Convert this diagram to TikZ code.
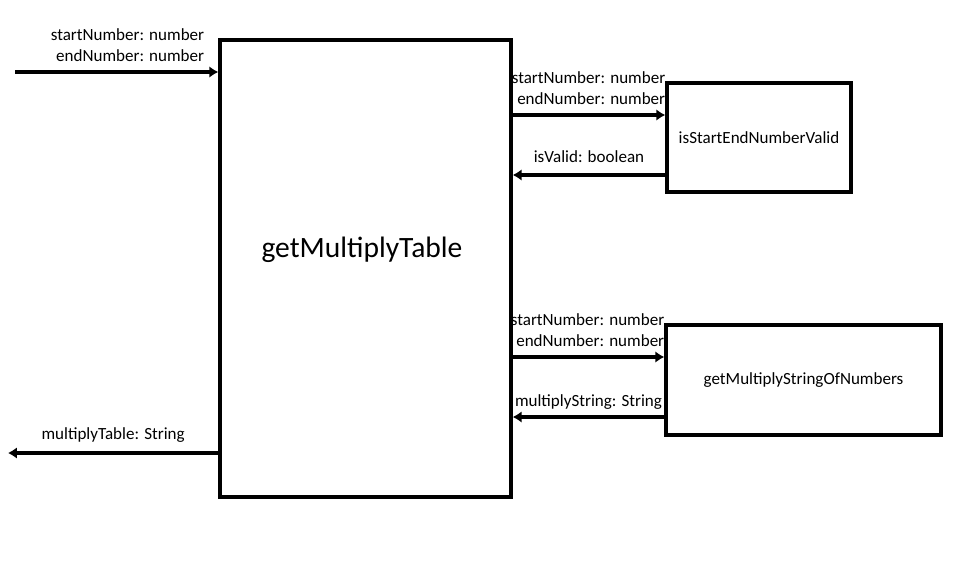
\documentclass[tikz,border=0pt]{standalone}
\usepackage{fontspec}
\setmainfont{Carlito}
\usetikzlibrary{arrows.meta,positioning,calc}
\tikzset{
  fn/.style={draw, line width=2pt, inner sep=0pt},
  flow/.style={line width=2.1pt, -{Latex[length=5pt,width=6.5pt]}},
  lbl/.style={font=\fontsize{9.7}{11.9}\selectfont, inner sep=1pt, align=right}
}
\begin{document}
\begin{tikzpicture}[x=0.02cm, y=-0.02cm]
		\useasboundingbox (0,0) rectangle (977,571);
		\node[fn, minimum width=5.82cm, minimum height=9.14cm] (main) at (365.5,268.5) {};
		\node[font=\fontsize{16.8}{20}\selectfont] (title) at (362,250) {getMultiplyTable};
		\node[fn, minimum width=3.68cm, minimum height=2.18cm, lbl] (valid)
		at (759,137.5) {isStartEndNumberValid};
		\node[fn, minimum width=5.5cm, minimum height=2.2cm, lbl] (mulstr)
		at (803.5,380) {getMultiplyStringOfNumbers};
		\coordinate (in) at (15,72);
		\coordinate (out) at (8,453);
		\path ($(valid.west)+(0,-22.5)$) coordinate (v1) ($(valid.west)+(0,37.5)$) coordinate (v2);
		\path ($(mulstr.west)+(0,-23)$) coordinate (m1) ($(mulstr.west)+(0,37)$) coordinate (m2);
		\draw[flow] (in) -- (in -| main.west)
		node[lbl, above left=4pt and 6pt] {startNumber: number\\endNumber: number};
		\draw[flow] (v1 -| main.east) -- (v1)
		node[lbl, above left=4pt and -2pt] {startNumber: number\\endNumber: number};
		\draw[flow] (v2) -- node[lbl, above=5pt] {isValid: boolean} (v2 -| main.east);
		\draw[flow] (m1 -| main.east) -- (m1)
		node[lbl, above left=4pt and -2pt] {startNumber: number\\endNumber: number};
		\draw[flow] (m2) -- node[lbl, above=2pt] {multiplyString: String} (m2 -| main.east);
		\draw[flow] (out -| main.west) -- node[lbl, above=4pt] {multiplyTable: String} (out);
	\end{tikzpicture}
\end{document}
